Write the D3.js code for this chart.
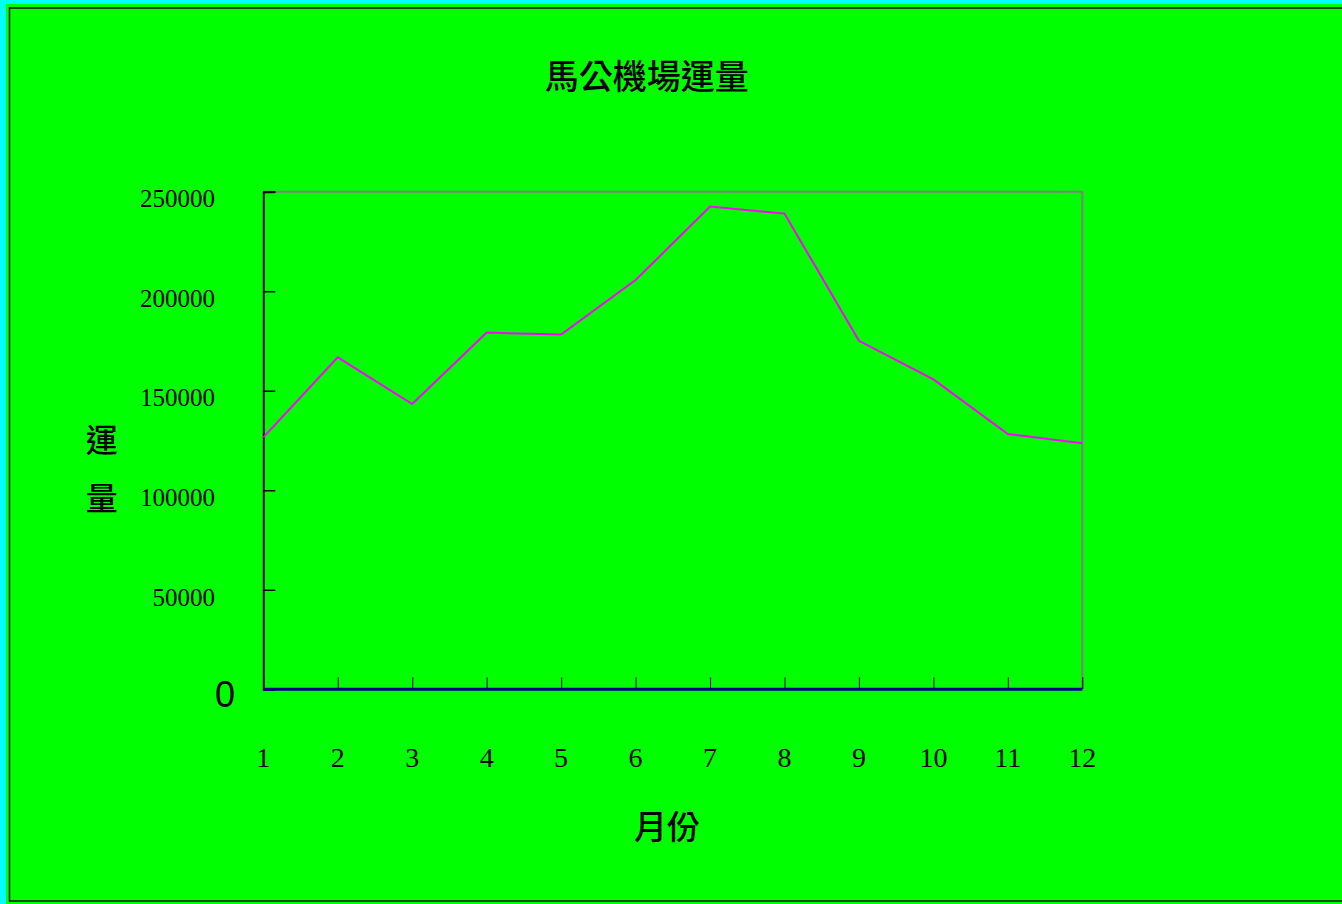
<!DOCTYPE html>
<html>
<head>
<meta charset="utf-8">
<script src="https://cdn.jsdelivr.net/npm/d3@7"></script>
<style>
  html, body { margin: 0; padding: 0; background: #00ffff; overflow: hidden; }
  svg { display: block; }
</style>
</head>
<body>
<svg id="chart" width="1342" height="904"></svg>
<script>
const months = [1, 2, 3, 4, 5, 6, 7, 8, 9, 10, 11, 12];
const traffic = [126600, 166800, 143300, 179200, 178200, 205600, 242500, 239000, 175100, 155700, 128300, 123600];
const zeroSeries = [0, 0, 0, 0, 0, 0, 0, 0, 0, 0, 0, 0];
const yTicks = [50000, 100000, 150000, 200000, 250000];
const titleText = "馬公機場運量";
const xTitle = "月份";
const yTitleChars = ["運", "量"];

const svg = d3.select("#chart");
const W = 1342, H = 904;
const plot = { left: 263.3, right: 1082.3, top: 191.7, bottom: 689.3 };

// background
svg.append("rect").attr("x", 0).attr("y", 0).attr("width", W).attr("height", H).attr("fill", "#00ffff");
svg.append("rect").attr("x", 6).attr("y", 4).attr("width", W).attr("height", H).attr("fill", "#00ff00");
svg.append("rect").attr("x", 9.5).attr("y", 8).attr("width", W + 10).attr("height", 893)
  .attr("fill", "none").attr("stroke", "#111").attr("stroke-width", 1.5);

const x = d3.scaleLinear().domain([1, 12]).range([plot.left, plot.right]);
const y = d3.scaleLinear().domain([0, 250000]).range([plot.bottom, plot.top]);

// plot frame: gray top/right
svg.append("path")
  .attr("d", `M${plot.left},${plot.top}H${plot.right}V${plot.bottom}`)
  .attr("fill", "none").attr("stroke", "#808080").attr("stroke-width", 2);

// left axis
const yAxis = d3.axisRight(y).tickValues(yTicks).tickSize(12).tickFormat("");
const gy = svg.append("g").attr("transform", `translate(${plot.left},0)`).call(yAxis);
gy.select(".domain").attr("stroke", "#000").attr("stroke-width", 2);
gy.selectAll(".tick line").attr("stroke", "#000").attr("stroke-width", 1.5);

// y tick labels
svg.append("g").selectAll("text").data(yTicks).join("text")
  .attr("x", 215).attr("y", d => y(d) + 10)
  .attr("text-anchor", "end").attr("dominant-baseline", "middle")
  .attr("font-family", "'Liberation Serif', 'Times New Roman', serif")
  .attr("font-size", 25).attr("fill", "#000")
  .text(d => d);
svg.append("text")
  .attr("x", 225).attr("y", 697)
  .attr("text-anchor", "middle").attr("dominant-baseline", "middle")
  .attr("font-family", "'Liberation Sans', Arial, sans-serif")
  .attr("font-size", 36).attr("fill", "#000")
  .text("0");

// x ticks (upward)
const xAxis = d3.axisTop(x).tickValues(months).tickSize(12).tickFormat("");
const gx = svg.append("g").attr("transform", `translate(0,${plot.bottom})`).call(xAxis);
gx.select(".domain").remove();
gx.selectAll(".tick line").attr("stroke", "#000").attr("stroke-width", 1);

// x tick labels
svg.append("g").selectAll("text").data(months).join("text")
  .attr("x", d => x(d)).attr("y", 761)
  .attr("text-anchor", "middle").attr("dominant-baseline", "middle")
  .attr("font-family", "'Liberation Serif', 'Times New Roman', serif")
  .attr("font-size", 28).attr("fill", "#000")
  .text(d => d);

// zero series (navy baseline)
const line = d3.line().x((d, i) => x(months[i])).y(d => y(d));
svg.append("path").datum(zeroSeries).attr("d", line)
  .attr("fill", "none").attr("stroke", "#000080").attr("stroke-width", 3);

// traffic series
svg.append("path").datum(traffic).attr("d", line)
  .attr("fill", "none").attr("stroke", "#ff00ff").attr("stroke-width", 2)
  .attr("stroke-linejoin", "miter");

// titles
const cjk = "'Noto Sans CJK TC', 'Noto Sans CJK SC', sans-serif";
svg.append("text")
  .attr("x", 646.7).attr("y", 80)
  .attr("text-anchor", "middle").attr("dominant-baseline", "middle")
  .attr("font-family", cjk).attr("font-size", 34).attr("font-weight", 500).attr("fill", "#000")
  .text(titleText);
svg.append("text")
  .attr("x", 667).attr("y", 830)
  .attr("text-anchor", "middle").attr("dominant-baseline", "middle")
  .attr("font-family", cjk).attr("font-size", 33).attr("font-weight", 500).attr("fill", "#000")
  .text(xTitle);
svg.append("g").selectAll("text").data(yTitleChars).join("text")
  .attr("x", 101.7).attr("y", (d, i) => 443 + i * 58)
  .attr("text-anchor", "middle").attr("dominant-baseline", "middle")
  .attr("font-family", cjk).attr("font-size", 32).attr("font-weight", 500).attr("fill", "#000")
  .text(d => d);
</script>
</body>
</html>
